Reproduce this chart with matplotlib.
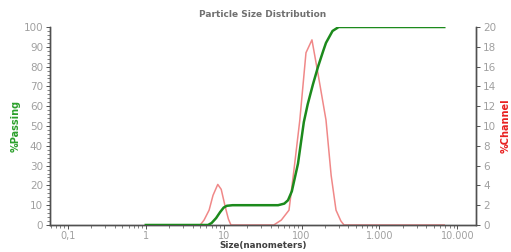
import matplotlib
matplotlib.use("Agg")
from matplotlib import pyplot as plt
from matplotlib.ticker import FixedLocator, LogLocator, NullFormatter, MultipleLocator
import numpy as np

# cumulative passing (left axis, %)
pass_size = [1, 6.3, 7, 8, 9, 10, 11, 13, 50, 60, 67, 75, 90, 107, 120, 140, 163, 190, 206, 250, 300, 6800]
pass_val = [0, 0, 1, 3.5, 6.5, 8.8, 9.7, 10, 10, 10.8, 12.5, 17, 31, 52, 61, 71, 80, 88, 92, 98, 100, 100]

# channel distribution (right axis, %)
chan_size = [1, 5, 5.6, 6.5, 7.3, 8.4, 9.3, 10.5, 11.5, 12.4, 44, 55, 69, 80, 95, 114, 136, 165, 206, 240, 277, 320, 351, 6800]
chan_val = [0, 0, 0.5, 1.5, 3, 4.1, 3.6, 1.8, 0.6, 0, 0, 0.5, 1.5, 5.6, 10.6, 17.4, 18.7, 15, 10.6, 5, 1.5, 0.4, 0, 0]

xticks = [0.1, 1, 10, 100, 1000, 10000]
xlabels = ["0,1", "1", "10", "100", "1.000", "10.000"]

grey = "#a0a0a0"
spine = "#505050"

fig = plt.figure(figsize=(5.11, 2.52), dpi=100)
ax = fig.add_axes([50/511, 1-225/252, 426/511, 198/252])
ax2 = ax.twinx()

ax2.plot(chan_size, chan_val, color="#f08888", lw=1.1, zorder=2)
ax.plot(pass_size, pass_val, color="#1c8a1c", lw=1.8, zorder=3)
ax.set_zorder(ax2.get_zorder() + 1)
ax.patch.set_visible(False)

ax.set_xscale("log")
ax.set_xlim(10**-1.23, 10**4.24)
ax.set_ylim(0, 100)
ax2.set_ylim(0, 20)

ax.xaxis.set_major_locator(FixedLocator(xticks))
ax.set_xticklabels(xlabels)
ax.xaxis.set_minor_locator(LogLocator(base=10, subs=np.arange(2, 10)))
ax.xaxis.set_minor_formatter(NullFormatter())
ax.yaxis.set_major_locator(MultipleLocator(10))
ax.yaxis.set_minor_locator(MultipleLocator(2))
ax2.yaxis.set_major_locator(MultipleLocator(2))

for a in (ax, ax2):
  a.tick_params(which="major", labelsize=7.5, labelcolor=grey, color=spine, length=3, width=0.7, pad=2)
  a.tick_params(which="minor", color=spine, length=2, width=0.5)
  for s in a.spines.values():
    s.set_color(spine)
    s.set_linewidth(1.0)
  a.spines["top"].set_visible(False)
ax.tick_params(axis="x", which="major", labelsize=7, pad=1.5)

ax.set_title("Particle Size Distribution", fontsize=6.5, color="#707070", fontweight="bold", pad=7)
ax.set_xlabel("Size(nanometers)", fontsize=6.3, color="#404040", fontweight="bold", labelpad=0)
ax.set_ylabel("%Passing", fontsize=7, color="#2ca02c", fontweight="bold", labelpad=2)
ax2.set_ylabel("%Channel", fontsize=7, color="#e82020", fontweight="bold", labelpad=3)

fig.savefig("out.png", dpi=100)
